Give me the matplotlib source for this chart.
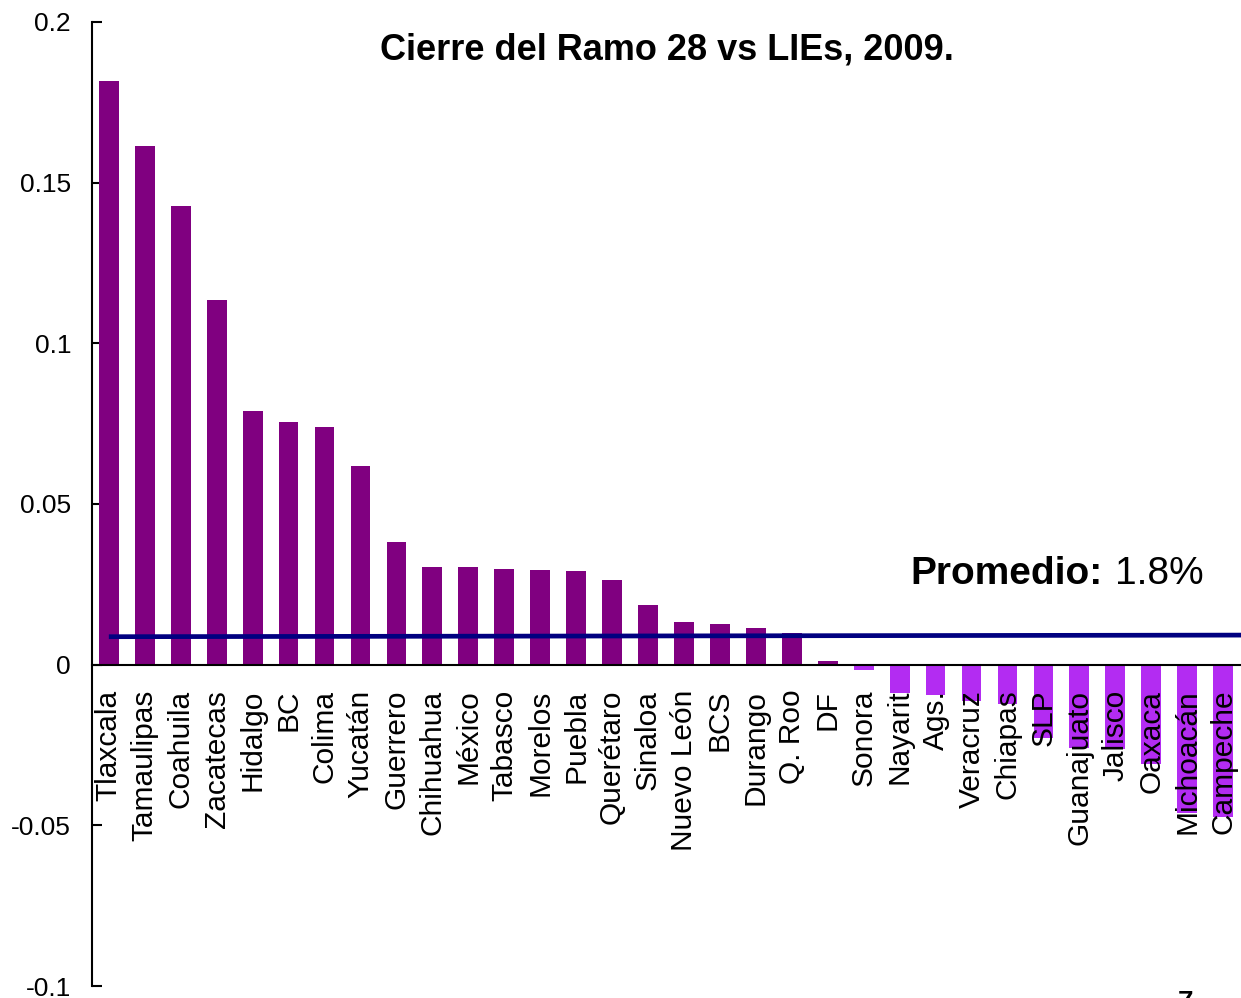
import matplotlib.pyplot as plt
import matplotlib.ticker as mticker

plt.rcParams['font.family'] = ['Liberation Sans', 'DejaVu Sans']

# states and closing value (Ramo 28 vs LIEs, 2009)
estados = ['Tlaxcala', 'Tamaulipas', 'Coahuila', 'Zacatecas', 'Hidalgo', 'BC',
           'Colima', 'Yucatán', 'Guerrero', 'Chihuahua', 'México', 'Tabasco',
           'Morelos', 'Puebla', 'Querétaro', 'Sinaloa', 'Nuevo León', 'BCS',
           'Durango', 'Q. Roo', 'DF', 'Sonora', 'Nayarit', 'Ags.', 'Veracruz',
           'Chiapas', 'SLP', 'Guanajuato', 'Jalisco', 'Oaxaca', 'Michoacán',
           'Campeche']
valores = [0.1817, 0.1615, 0.1428, 0.1136, 0.0790, 0.0756, 0.0741, 0.0619,
           0.0383, 0.0305, 0.0305, 0.0299, 0.0296, 0.0292, 0.0264, 0.0187,
           0.0134, 0.0127, 0.0115, 0.0100, 0.0012, -0.0017, -0.0089, -0.0093,
           -0.0112, -0.0121, -0.0229, -0.0260, -0.0263, -0.0308, -0.0463,
           -0.0475]

# average line (drawn slightly tilted in the original)
promedio_ini = 0.0087
promedio_fin = 0.0092
promedio_txt = '1.8%'

fig = plt.figure(figsize=(12.41, 9.98), dpi=100)
ax = fig.add_axes([0.0741, 0.012, 0.926, 0.966])

colores = ['#800080' if v >= 0 else '#B32CF2' for v in valores]
x = list(range(len(estados)))
ax.bar(x, valores, width=0.55, color=colores, zorder=2)

ax.plot([0, len(estados) - 0.5], [promedio_ini, promedio_fin],
        color='#000080', lw=3.4, zorder=3, solid_capstyle='butt')

ax.set_xlim(-0.47, len(estados) - 0.5)
ax.set_ylim(-0.1, 0.2)
ax.yaxis.set_major_locator(mticker.MultipleLocator(0.05))
ax.yaxis.set_major_formatter(mticker.FuncFormatter(lambda v, p: f'{v:g}'))
ax.tick_params(axis='y', direction='in', length=7, width=1.5, labelsize=19, pad=15)

for s in ['top', 'right']:
    ax.spines[s].set_visible(False)
ax.spines['left'].set_linewidth(1.5)
ax.spines['bottom'].set_position(('data', 0))
ax.spines['bottom'].set_linewidth(1.5)
ax.spines['bottom'].set_zorder(4)
ax.set_xticks([])

for i, nombre in enumerate(estados):
    ax.text(i, -0.0078, nombre, rotation=90, ha='center', va='top',
            fontsize=21.5, zorder=5)

ax.text(0.5, 0.971, 'Cierre del Ramo 28 vs LIEs, 2009.', transform=ax.transAxes,
        ha='center', va='center', fontsize=26, fontweight='bold')

ax.text(0.712, 0.0283, 'Promedio:', transform=ax.get_yaxis_transform(),
        ha='left', va='center', fontsize=28, fontweight='bold')
ax.text(0.89, 0.0283, promedio_txt, transform=ax.get_yaxis_transform(),
        ha='left', va='center', fontsize=28)

# slide number, mostly cut off at the bottom edge
fig.text(0.955, 0.008, '7', ha='center', va='top', fontsize=20,
         fontweight='bold')

fig.savefig('out.png', dpi=100)
